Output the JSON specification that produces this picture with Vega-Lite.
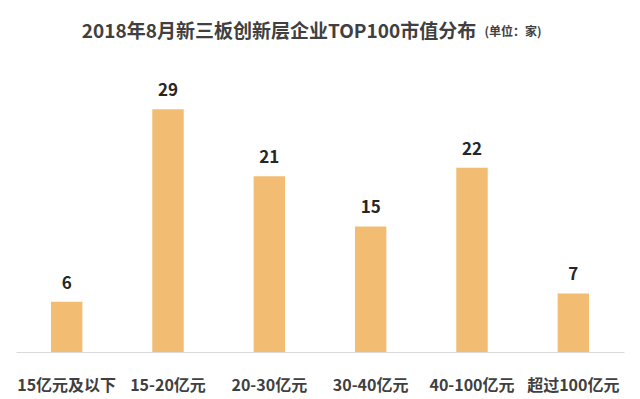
{
  "$schema": "https://vega.github.io/schema/vega-lite/v6.json",
  "autosize": "none",
  "width": 608,
  "height": 293,
  "padding": {"left": 16, "top": 59, "right": 16, "bottom": 47},
  "background": "white",
  "config": {"view": {"stroke": null}, "font": "Noto Sans CJK SC"},
  "title": {
    "text": "2018年8月新三板创新层企业TOP100市值分布",
    "anchor": "middle",
    "dx": -41,
    "offset": -17,
    "fontSize": 19,
    "fontWeight": "bold",
    "color": "#404040",
    "font": "Noto Sans CJK SC"
  },
  "data": {
    "values": [
      {"range": "15亿元及以下", "count": 6},
      {"range": "15-20亿元", "count": 29},
      {"range": "20-30亿元", "count": 21},
      {"range": "30-40亿元", "count": 15},
      {"range": "40-100亿元", "count": 22},
      {"range": "超过100亿元", "count": 7}
    ]
  },
  "encoding": {
    "x": {
      "field": "range",
      "type": "nominal",
      "sort": null,
      "scale": {"paddingInner": 0.69, "paddingOuter": 0.345},
      "axis": {
        "title": null,
        "labelAngle": 0,
        "ticks": false,
        "labelPadding": 25,
        "labelFontSize": 16,
        "labelFontWeight": "bold",
        "labelColor": "#404040",
        "labelFont": "Noto Sans CJK SC",
        "domainColor": "#D9D9D9",
        "domainWidth": 1
      }
    },
    "y": {
      "field": "count",
      "type": "quantitative",
      "scale": {"domain": [0, 35], "nice": false},
      "axis": {
        "title": "(单位：家)",
        "titleAngle": 0,
        "titleX": 468,
        "titleY": -28,
        "titleAlign": "left",
        "titleBaseline": "middle",
        "titleFontSize": 12,
        "titleFontWeight": "bold",
        "titleColor": "#404040",
        "titleFont": "Noto Sans CJK SC",
        "labels": false,
        "ticks": false,
        "domain": false,
        "grid": false
      }
    }
  },
  "layer": [
    {"mark": {"type": "bar", "color": "#F2BD72"}},
    {
      "mark": {
        "type": "text",
        "baseline": "alphabetic",
        "dy": -13,
        "fontSize": 17,
        "fontWeight": "bold",
        "color": "#262626",
        "font": "Noto Sans CJK SC"
      },
      "encoding": {"text": {"field": "count", "type": "quantitative"}}
    }
  ]
}
